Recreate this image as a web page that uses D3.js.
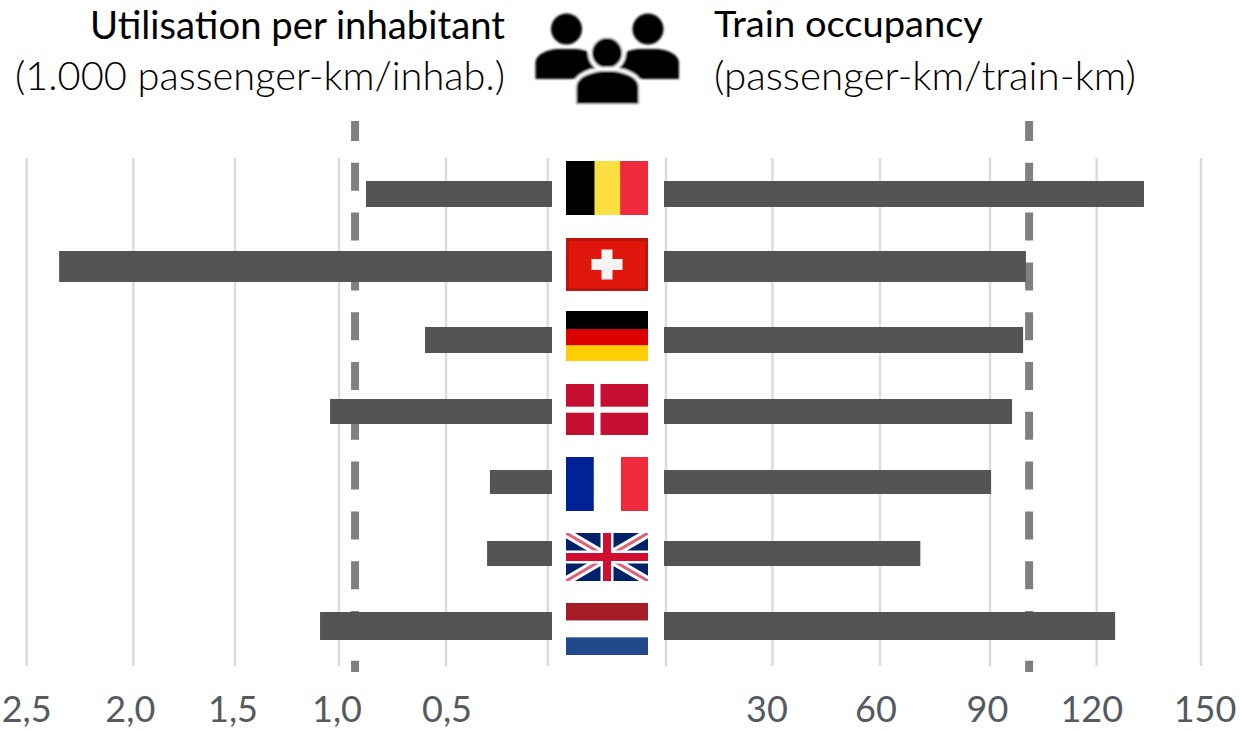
<!DOCTYPE html>
<html><head><meta charset="utf-8">
<style>html,body{margin:0;padding:0;background:#fff;overflow:hidden}svg{display:block}</style>
<script src="https://cdn.jsdelivr.net/npm/d3@7/dist/d3.min.js"></script>
</head><body><div id="chart"></div>
<script>
const countries = ["Belgium","Switzerland","Germany","Denmark","France","United Kingdom","Netherlands"];
const utilisation = [0.874,2.348,0.598,1.043,0.284,0.298,1.091];
const occupancy = [133.6,100.1,99.3,96.2,90.3,71.0,125.3];
const utilisationAverage = 0.925;
const occupancyAverage = 101;
const leftTicks = [2.5,2.0,1.5,1.0,0.5,0];
const rightTicks = [0,30,60,90,120,150];
// layout only
const rowCentres = [194,266.5,340,411.5,482,553.5,626];
const barThickness = [26,31,26,25,24,25,28];
const flagCentres = [188,264.5,336,409.5,484,557,629];
const flagThickness = [54,53,50,51,54,48,52];
const leftLabelShift = [0,-3,-2,-2,1];
const rightLabelShift = [-5.5,-4,-2.5,-5,4];
const fmt = d => d3.format(".1f")(d).replace(".", ",");

const W = 1240, H = 731;
const svg = d3.select("#chart").append("svg").attr("width", W).attr("height", H);
const defs = svg.append("defs");
const blur = (id,s)=>defs.append("filter").attr("id",id).attr("x","-5%").attr("y","-10%").attr("width","110%").attr("height","120%")
  .append("feGaussianBlur").attr("stdDeviation",s);
blur("soft",0.7); blur("softer",1.1);

const xL = d3.scaleLinear().domain([0,0.5,1,1.5,2,2.5]).range([547.7,446,339,235,133.3,26.7]);
const xR = d3.scaleLinear().domain([0,30,60,90,120,150]).range([666,772.5,880,990,1096.7,1201]);
const y = d3.scaleOrdinal(countries, rowCentres);
const yFlag = d3.scaleOrdinal(countries, flagCentres);
const gridTop = 158, gridBottom = 666;
const flagX = 566, flagW = 82;
const leftBase = 552, rightBase = 664;

const g = svg.append("g").attr("filter","url(#soft)");
g.selectAll("line.gl").data(leftTicks).join("line").attr("class","gl")
  .attr("x1",d=>xL(d)).attr("x2",d=>xL(d)).attr("y1",gridTop).attr("y2",gridBottom)
  .attr("stroke","#dcdcdc").attr("stroke-width",2.4);
g.selectAll("line.gr").data(rightTicks).join("line").attr("class","gr")
  .attr("x1",d=>xR(d)).attr("x2",d=>xR(d)).attr("y1",gridTop).attr("y2",gridBottom)
  .attr("stroke","#dcdcdc").attr("stroke-width",2.4);
[xL(utilisationAverage), xR(occupancyAverage)].forEach(x=>{
  g.append("line").attr("x1",x).attr("x2",x).attr("y1",121).attr("y2",672)
   .attr("stroke","#808080").attr("stroke-width",8)
   .attr("stroke-dasharray","28 21.8").attr("stroke-dashoffset",8);
});
g.selectAll("rect.bl").data(countries).join("rect").attr("class","bl")
  .attr("x",(d,i)=>xL(utilisation[i])).attr("width",(d,i)=>leftBase-xL(utilisation[i]))
  .attr("y",(d,i)=>y(d)-barThickness[i]/2).attr("height",(d,i)=>barThickness[i]).attr("fill","#535553");
g.selectAll("rect.br").data(countries).join("rect").attr("class","br")
  .attr("x",rightBase).attr("width",(d,i)=>xR(occupancy[i])-rightBase)
  .attr("y",(d,i)=>y(d)-barThickness[i]/2).attr("height",(d,i)=>barThickness[i]).attr("fill","#535553");

const flags = g.append("g");
function stripes(i, dir, cols, fr){
  const h = flagThickness[i], top = yFlag(countries[i]) - h/2;
  let acc = 0;
  cols.forEach((c,k)=>{
    const f = fr[k];
    if(dir==="v") flags.append("rect").attr("x",flagX+acc*flagW).attr("width",f*flagW).attr("y",top).attr("height",h).attr("fill",c);
    else flags.append("rect").attr("x",flagX).attr("width",flagW).attr("y",top+acc*h).attr("height",f*h).attr("fill",c);
    acc += f;
  });
  return {top,h};
}
stripes(0,"v",["#000000","#fadf40","#ef2b3d"],[0.35,0.31,0.34]);
{ const {top,h}=stripes(1,"h",["#e0140f"],[1]);
  const cx=flagX+flagW/2, cy=top+h/2;
  flags.append("rect").attr("x",flagX+1.5).attr("y",top+1.5).attr("width",flagW-3).attr("height",h-3).attr("fill","none").attr("stroke","#bb1510").attr("stroke-width",3);
  flags.append("rect").attr("x",cx-15.5).attr("y",cy-5.5).attr("width",31).attr("height",11).attr("fill","#f8f4f4");
  flags.append("rect").attr("x",cx-5.5).attr("y",cy-15).attr("width",11).attr("height",30).attr("fill","#f8f4f4");
}
stripes(2,"h",["#000000","#dd0000","#ffce00"],[0.36,0.33,0.31]);
{ const {top,h}=stripes(3,"h",["#c60c30"],[1]);
  flags.append("rect").attr("x",flagX+0.341*flagW).attr("width",0.08*flagW).attr("y",top).attr("height",h).attr("fill","#fff");
  flags.append("rect").attr("x",flagX).attr("width",flagW).attr("y",top+0.445*h).attr("height",0.118*h).attr("fill","#fff");
}
stripes(4,"v",["#002395","#ffffff","#ef2b3d"],[0.34,0.33,0.33]);
{ const {top,h}=stripes(5,"h",["#012169"],[1]);
  const x0=flagX,x1=flagX+flagW,y0=top,y1=top+h,cx=(x0+x1)/2,cy=(y0+y1)/2;
  defs.append("clipPath").attr("id","ukclip").append("rect").attr("x",x0).attr("y",y0).attr("width",flagW).attr("height",h);
  const u=flags.append("g").attr("clip-path","url(#ukclip)");
  const ln=(a,b,c,d,col,w)=>u.append("line").attr("x1",a).attr("y1",b).attr("x2",c).attr("y2",d).attr("stroke",col).attr("stroke-width",w);
  ln(x0,y0,x1,y1,"#fff",9); ln(x1,y0,x0,y1,"#fff",9);
  ln(x0,y0,x1,y1,"#e0607a",3); ln(x1,y0,x0,y1,"#e0607a",3);
  ln(cx,y0,cx,y1,"#fff",13); ln(x0,cy,x1,cy,"#fff",13);
  ln(cx,y0,cx,y1,"#d20f30",8); ln(x0,cy,x1,cy,"#d20f30",8);
}
stripes(6,"h",["#a61c26","#ffffff","#234a8c"],[0.34,0.32,0.34]);

const tick = svg.append("g").attr("font-family","Lato, sans-serif").attr("font-size",36).attr("fill","#555a60").attr("text-anchor","middle");
tick.selectAll("text.tl").data(leftTicks.filter(d=>d>0)).join("text").attr("class","tl")
  .attr("x",(d,i)=>xL(d)+leftLabelShift[i]).attr("y",722).text(fmt);
tick.selectAll("text.tr").data(rightTicks.filter(d=>d>0)).join("text").attr("class","tr")
  .attr("x",(d,i)=>xR(d)+rightLabelShift[i]).attr("y",722).text(d=>d);

const title = svg.append("g").attr("font-family","Lato, sans-serif").attr("fill","#000");
const tt=(s,x,yy,anchor,len,size,weight)=>title.append("text").attr("x",x).attr("y",yy).attr("text-anchor",anchor)
  .attr("font-size",size).attr("font-weight",weight).attr("textLength",len).attr("lengthAdjust","spacingAndGlyphs").text(s);
tt("Utilisation per inhabitant",505,39,"end",415,38,400);
tt("(1.000 passenger-km/inhab.)",505,90,"end",490,40,300);
tt("Train occupancy",714,37,"start",269,36,400);
tt("(passenger-km/train-km)",714,90,"start",422,40,300);

const icon = svg.append("g").attr("filter","url(#softer)").attr("fill","#000");
const sideBody="M-31,30 V14 C-31,5 -18,0 -8,0 H8 C18,0 31,5 31,14 V30 Z";
[566.5,648].forEach(x=>{
  icon.append("circle").attr("cx",x).attr("cy",29).attr("r",15.5);
  icon.append("path").attr("d",sideBody).attr("transform",`translate(${x},49)`);
});
icon.append("circle").attr("cx",607).attr("cy",53).attr("r",15).attr("stroke","#fff").attr("stroke-width",8).attr("paint-order","stroke");
icon.append("path").attr("d","M-31,33 V16 C-31,6 -16,0 0,0 C16,0 31,6 31,16 V33 Z").attr("transform","translate(607.5,71)")
  .attr("stroke","#fff").attr("stroke-width",8).attr("paint-order","stroke");
</script></body></html>
